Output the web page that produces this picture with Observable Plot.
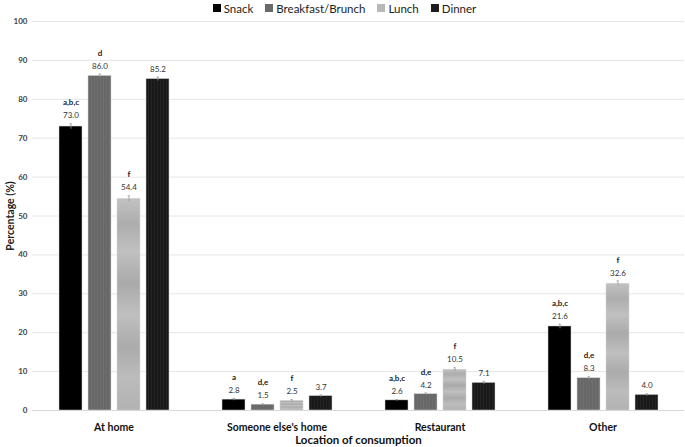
<!DOCTYPE html>
<html>
<head>
<meta charset="utf-8">
<script src="https://cdn.jsdelivr.net/npm/d3@7"></script>
<script src="https://cdn.jsdelivr.net/npm/@observablehq/plot@0.6"></script>
<style>
  html, body { margin: 0; padding: 0; background: #fff; }
  body { width: 685px; height: 447px; overflow: hidden; font-family: Lato, "Liberation Sans", sans-serif; }
  #legend { height: 16px; display: flex; justify-content: center; align-items: center; gap: 12px; font-size: 11.5px; color: #222; padding-left: 4px; }
  #legend .it { display: flex; align-items: center; gap: 3px; }
  #legend .sw { width: 8px; height: 8px; display: inline-block; }
  #chart svg { overflow: visible; display: block; }
</style>
</head>
<body>
<div id="legend"></div>
<div id="chart"></div>
<script>
const locations = ["At home", "Someone else's home", "Restaurant", "Other"];
const meals = ["Snack", "Breakfast/Brunch", "Lunch", "Dinner"];
const snack = [73.0, 2.8, 2.6, 21.6];
const breakfast = [86.0, 1.5, 4.2, 8.3];
const lunch = [54.4, 2.5, 10.5, 32.6];
const dinner = [85.2, 3.7, 7.1, 4.0];
const snackErr = [0.7, 0.3, 0.2, 0.6];
const breakfastErr = [0.5, 0.2, 0.3, 0.4];
const lunchErr = [0.8, 0.3, 0.5, 0.7];
const dinnerErr = [0.5, 0.3, 0.4, 0.3];
const snackLetters = ["a,b,c", "a", "a,b,c", "a,b,c"];
const breakfastLetters = ["d", "d,e", "d,e", "d,e"];
const lunchLetters = ["f", "f", "f", "f"];
const dinnerLetters = ["", "", "", ""];
const swatchColors = ["#000000", "#6a6a6a", "#b8b8b8", "#1c1c1c"];

const series = [
  [snack, snackErr, snackLetters],
  [breakfast, breakfastErr, breakfastLetters],
  [lunch, lunchErr, lunchLetters],
  [dinner, dinnerErr, dinnerLetters]
];
const data = [];
locations.forEach((loc, i) => {
  meals.forEach((m, j) => {
    const [v, e, l] = series[j];
    data.push({location: loc, meal: m, value: v[i], err: e[i], letter: l[i]});
  });
});

// legend
const lg = document.getElementById("legend");
meals.forEach((m, j) => {
  const it = document.createElement("span");
  it.className = "it";
  it.innerHTML = `<span class="sw" style="background:${swatchColors[j]}"></span><span>${m}</span>`;
  lg.appendChild(it);
});

const fills = ["url(#pSnack)", "url(#pBreak)", "url(#pLunch)", "url(#pDinner)"];

const chart = Plot.plot({
  width: 685,
  height: 431,
  marginLeft: 31,
  marginRight: 1,
  marginTop: 5,
  marginBottom: 37,
  style: {fontFamily: "Lato, 'Liberation Sans', sans-serif", background: "#fff", overflow: "visible"},
  fx: {domain: locations, padding: 0, label: "Location of consumption"},
  x: {domain: meals, paddingInner: 0.22, paddingOuter: 0.86, axis: null},
  y: {domain: [0, 100], ticks: d3.range(0, 101, 10), label: null},
  color: {domain: meals, range: fills},
  marks: [
    Plot.gridY(d3.range(10, 101, 10), {stroke: "#e6e6e6", strokeOpacity: 1}),
    Plot.ruleY([0], {stroke: "#d9d9d9"}),
    Plot.axisY({ticks: d3.range(0, 101, 10), tickSize: 0, tickPadding: 5, fontSize: 8, fontWeight: "bold", fill: "#444"}),
    Plot.axisY({ticks: [], tickSize: 0, label: "Percentage (%)", labelAnchor: "center", labelArrow: "none", labelOffset: 26, fontSize: 10.5, fontWeight: "bold", fill: "#222"}),
    Plot.axisFx({anchor: "bottom", tickSize: 0, tickPadding: 13, fontSize: 10.5, fontWeight: "bold", fill: "#111", label: null}),
    Plot.axisFx({anchor: "bottom", ticks: [], tickSize: 0, label: "Location of consumption", labelAnchor: "center", labelArrow: "none", labelOffset: 33, fontSize: 11.5, fontWeight: "bold", fill: "#111"}),
    Plot.barY(data, {fx: "location", x: "meal", y: "value", fill: "meal", stroke: "#d4d4d4", strokeWidth: 0.5}),
    Plot.ruleX(data, {fx: "location", x: "meal", y1: d => d.value - d.err, y2: d => d.value + d.err, stroke: "#999", strokeWidth: 0.8}),
    Plot.tickY(data, {fx: "location", x: "meal", y: d => d.value + d.err, stroke: "#999", strokeWidth: 0.8, inset: 10.5}),
    Plot.text(data, {fx: "location", x: "meal", y: d => d.value + d.err, text: d => d.value.toFixed(1), dy: -8, fontSize: 8, fill: "#333"}),
    Plot.text(data, {fx: "location", x: "meal", y: d => d.value + d.err, text: "letter", dy: -21, fontSize: 8, fontWeight: "bold", fill: "#222"})
  ]
});

// patterns / gradients for bar fills
const ns = "http://www.w3.org/2000/svg";
const defs = document.createElementNS(ns, "defs");
defs.innerHTML = `
  <pattern id="pSnack" patternUnits="userSpaceOnUse" width="4" height="4">
    <rect width="4" height="4" fill="#000"/>
  </pattern>
  <pattern id="pBreak" patternUnits="userSpaceOnUse" width="3" height="4">
    <rect width="3" height="4" fill="#686868"/>
    <rect width="1" height="4" fill="#6e6e6e"/>
  </pattern>
  <linearGradient id="pLunch" x1="0" y1="0" x2="0" y2="1">
    <stop offset="0" stop-color="#c2c2c2"/>
    <stop offset="0.12" stop-color="#adadad"/>
    <stop offset="0.25" stop-color="#c0c0c0"/>
    <stop offset="0.4" stop-color="#aaaaaa"/>
    <stop offset="0.55" stop-color="#bfbfbf"/>
    <stop offset="0.7" stop-color="#ababab"/>
    <stop offset="0.85" stop-color="#bcbcbc"/>
    <stop offset="1" stop-color="#b2b2b2"/>
  </linearGradient>
  <pattern id="pDinner" patternUnits="userSpaceOnUse" width="3" height="4">
    <rect width="3" height="4" fill="#191919"/>
    <rect width="1" height="4" fill="#232323"/>
  </pattern>`;
chart.insertBefore(defs, chart.firstChild);
document.getElementById("chart").appendChild(chart);
</script>
</body>
</html>
